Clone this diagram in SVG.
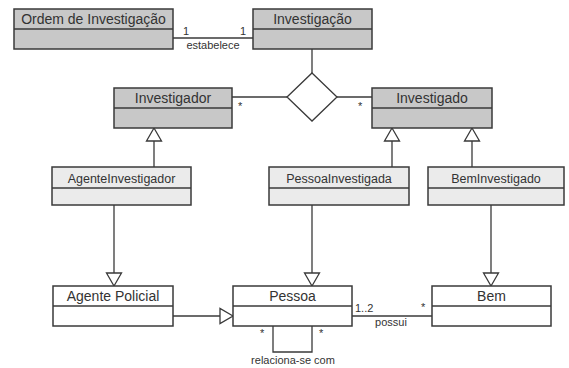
<svg xmlns="http://www.w3.org/2000/svg" width="569" height="368" viewBox="0 0 569 368">
<style>
.box{stroke:#3a3a3a;stroke-width:1.5}
.dark{fill:#c8c8c8}
.mid{fill:#ebebeb}
.light{fill:#ffffff}
.t{font-family:"Liberation Sans",Arial,sans-serif;fill:#333;text-anchor:middle}
.tl{font-size:14px}
.tm{font-size:12.5px}
.s{font-family:"Liberation Sans",Arial,sans-serif;fill:#333;font-size:11px}
.ln{stroke:#3a3a3a;stroke-width:1.3;fill:none}
.tri{stroke:#3a3a3a;stroke-width:1.3;fill:#fff}
</style>
<rect width="569" height="368" fill="#fff"/>
<g id="connectors">
  <line class="ln" x1="173" y1="38" x2="253" y2="38"/>
  <line class="ln" x1="312" y1="49" x2="312" y2="73"/>
  <polygon class="tri" points="312,73 337,97 312,121 287,97"/>
  <line class="ln" x1="232" y1="97" x2="287" y2="97"/>
  <line class="ln" x1="337" y1="97" x2="372" y2="97"/>
  <line class="ln" x1="154" y1="141" x2="154" y2="167"/>
  <polygon class="tri" points="154,128 161.5,141 146.5,141"/>
  <line class="ln" x1="392" y1="141" x2="392" y2="167"/>
  <polygon class="tri" points="392,128 399.5,141 384.5,141"/>
  <line class="ln" x1="472" y1="141" x2="472" y2="167"/>
  <polygon class="tri" points="472,128 479.5,141 464.5,141"/>
  <line class="ln" x1="114" y1="205" x2="114" y2="273"/>
  <polygon class="tri" points="114,286 121.5,273 106.5,273"/>
  <line class="ln" x1="312" y1="205" x2="312" y2="273"/>
  <polygon class="tri" points="312,286 319.5,273 304.5,273"/>
  <line class="ln" x1="491" y1="205" x2="491" y2="273"/>
  <polygon class="tri" points="491,286 498.5,273 483.5,273"/>
  <line class="ln" x1="173" y1="316" x2="220" y2="316"/>
  <polygon class="tri" points="233,316 220,308.5 220,323.5"/>
  <line class="ln" x1="352" y1="316" x2="432" y2="316"/>
  <polyline class="ln" points="273,326 273,352 312,352 312,326"/>
  <text class="s" x="183" y="35">1</text>
  <text class="s" x="240" y="35">1</text>
  <text class="s" x="213" y="49" text-anchor="middle">estabelece</text>
  <text class="s" x="238" y="110">*</text>
  <text class="s" x="358" y="110">*</text>
  <text class="s" x="355" y="312">1..2</text>
  <text class="s" x="421" y="311">*</text>
  <text class="s" x="391" y="326" text-anchor="middle">possui</text>
  <text class="s" x="260" y="337">*</text>
  <text class="s" x="319" y="337">*</text>
  <text class="s" x="293" y="364" text-anchor="middle">relaciona-se com</text>
</g>
<g id="ordem">
  <rect class="box dark" x="14" y="9" width="159" height="40"/>
  <line class="box" x1="14" y1="29" x2="173" y2="29"/>
  <text class="t tl" x="93.5" y="24">Ordem de Investigação</text>
</g>
<g id="investigacao">
  <rect class="box dark" x="253" y="9" width="119" height="40"/>
  <line class="box" x1="253" y1="29" x2="372" y2="29"/>
  <text class="t tl" x="312.5" y="24">Investigação</text>
</g>
<g id="investigador">
  <rect class="box dark" x="114" y="88" width="118" height="40"/>
  <line class="box" x1="114" y1="108" x2="232" y2="108"/>
  <text class="t tl" x="173" y="103">Investigador</text>
</g>
<g id="investigado">
  <rect class="box dark" x="372" y="88" width="120" height="40"/>
  <line class="box" x1="372" y1="108" x2="492" y2="108"/>
  <text class="t tl" x="432" y="103">Investigado</text>
</g>
<g id="agenteinvestigador">
  <rect class="box mid" x="52" y="167" width="139" height="38"/>
  <line class="box" x1="52" y1="188" x2="191" y2="188"/>
  <text class="t tm" x="121.5" y="183">AgenteInvestigador</text>
</g>
<g id="pessoainvestigada">
  <rect class="box mid" x="269" y="167" width="140" height="38"/>
  <line class="box" x1="269" y1="188" x2="409" y2="188"/>
  <text class="t tm" x="339" y="183">PessoaInvestigada</text>
</g>
<g id="beminvestigado">
  <rect class="box mid" x="428" y="167" width="136" height="38"/>
  <line class="box" x1="428" y1="188" x2="564" y2="188"/>
  <text class="t tm" x="496" y="183">BemInvestigado</text>
</g>
<g id="agentepolicial">
  <rect class="box light" x="53" y="286" width="120" height="40"/>
  <line class="box" x1="53" y1="306" x2="173" y2="306"/>
  <text class="t tl" x="113" y="301">Agente Policial</text>
</g>
<g id="pessoa">
  <rect class="box light" x="233" y="286" width="119" height="40"/>
  <line class="box" x1="233" y1="306" x2="352" y2="306"/>
  <text class="t tl" x="292.5" y="301">Pessoa</text>
</g>
<g id="bem">
  <rect class="box light" x="432" y="286" width="119" height="40"/>
  <line class="box" x1="432" y1="306" x2="551" y2="306"/>
  <text class="t tl" x="491.5" y="301">Bem</text>
</g>
</svg>
